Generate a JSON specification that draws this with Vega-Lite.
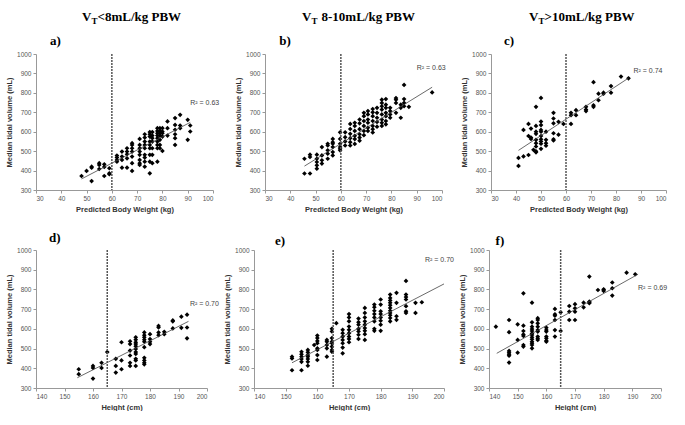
{
"$schema": "https://vega.github.io/schema/vega-lite/v6.json",
"background": "white",
"padding": {"left": 5, "top": 11, "right": 0, "bottom": 0},
"config": {
  "view": {"stroke": null},
  "axis": {"grid": false, "labelOverlap": false, "tickCount": 20, "format": "d", "labelFont": "Liberation Sans", "labelFontSize": 6.5, "labelColor": "#555", "tickSize": 3, "tickColor": "#999", "domainColor": "#999", "labelPadding": 2, "titleFont": "Liberation Sans", "titleFontSize": 7.5, "titleFontWeight": "bold", "titleColor": "#333", "titlePadding": 4},
  "axisY": {"titlePadding": 3}
},
"datasets": {
"a": [{"x":48,"y":372},{"x":50,"y":398},{"x":52,"y":420},{"x":52,"y":415},{"x":52,"y":346},{"x":55,"y":438},{"x":55,"y":429},{"x":55,"y":408},{"x":57,"y":432},{"x":57,"y":419},{"x":57,"y":372},{"x":59,"y":412},{"x":59,"y":386},{"x":59,"y":381},
{"x":62,"y":477},{"x":62,"y":467},{"x":62,"y":455},{"x":62,"y":446},
{"x":64,"y":498},{"x":64,"y":472},{"x":64,"y":455},{"x":64,"y":415},
{"x":66,"y":515},{"x":66,"y":498},{"x":66,"y":484},{"x":66,"y":463},{"x":66,"y":415},
{"x":68,"y":541},{"x":68,"y":532},{"x":68,"y":515},{"x":68,"y":498},{"x":68,"y":472},{"x":68,"y":438},{"x":68,"y":398},
{"x":71,"y":563},{"x":71,"y":532},{"x":71,"y":515},{"x":71,"y":498},{"x":71,"y":481},{"x":71,"y":455},{"x":71,"y":438},{"x":71,"y":429},
{"x":73,"y":587},{"x":73,"y":570},{"x":73,"y":549},{"x":73,"y":532},{"x":73,"y":515},{"x":73,"y":481},{"x":73,"y":467},{"x":73,"y":446},{"x":73,"y":420},
{"x":75,"y":598},{"x":75,"y":587},{"x":75,"y":575},{"x":75,"y":549},{"x":75,"y":532},{"x":75,"y":515},{"x":75,"y":481},{"x":75,"y":446},{"x":75,"y":386},
{"x":76,"y":598},{"x":76,"y":580},{"x":76,"y":567},{"x":76,"y":549},{"x":76,"y":515},{"x":76,"y":481},{"x":76,"y":438},
{"x":78,"y":618},{"x":78,"y":604},{"x":78,"y":592},{"x":78,"y":580},{"x":78,"y":567},{"x":78,"y":549},{"x":78,"y":532},{"x":78,"y":515},{"x":78,"y":446},
{"x":79,"y":618},{"x":79,"y":604},{"x":79,"y":592},{"x":79,"y":580},{"x":79,"y":558},{"x":79,"y":532},{"x":79,"y":515},
{"x":80,"y":618},{"x":80,"y":601},{"x":80,"y":592},{"x":80,"y":575},{"x":80,"y":501},
{"x":82,"y":653},{"x":82,"y":618},{"x":82,"y":580},
{"x":85,"y":670},{"x":85,"y":635},{"x":85,"y":610},{"x":85,"y":587},{"x":85,"y":567},{"x":85,"y":532},
{"x":87,"y":687},{"x":87,"y":632},{"x":87,"y":618},
{"x":90,"y":661},{"x":90,"y":558},{"x":91,"y":632},{"x":91,"y":601}],
"b": [{"x":45.6,"y":461},{"x":45.6,"y":385},{"x":47.8,"y":482},{"x":47.8,"y":470},{"x":47.8,"y":385},
{"x":50.5,"y":482},{"x":50.5,"y":461},{"x":50.5,"y":444},{"x":50.5,"y":427},{"x":50.5,"y":410},
{"x":52.5,"y":521},{"x":52.5,"y":478},{"x":52.5,"y":453},{"x":52.5,"y":436},
{"x":54.8,"y":538},{"x":54.8,"y":529},{"x":54.8,"y":504},{"x":54.8,"y":487},{"x":54.8,"y":461},
{"x":56.8,"y":563},{"x":56.8,"y":546},{"x":56.8,"y":538},{"x":56.8,"y":521},{"x":56.8,"y":495},{"x":56.8,"y":478},
{"x":59.7,"y":597},{"x":59.7,"y":563},{"x":59.7,"y":538},{"x":59.7,"y":521},{"x":59.7,"y":512},{"x":59.7,"y":504},
{"x":61.7,"y":597},{"x":61.7,"y":572},{"x":61.7,"y":550},{"x":61.7,"y":529},
{"x":63.7,"y":640},{"x":63.7,"y":614},{"x":63.7,"y":589},{"x":63.7,"y":567},{"x":63.7,"y":546},{"x":63.7,"y":529},
{"x":65.5,"y":646},{"x":65.5,"y":630},{"x":65.5,"y":604},{"x":65.5,"y":579},{"x":65.5,"y":562},{"x":65.5,"y":537},
{"x":67.4,"y":663},{"x":67.4,"y":643},{"x":67.4,"y":613},{"x":67.4,"y":587},{"x":67.4,"y":570},{"x":67.4,"y":554},
{"x":69.1,"y":697},{"x":69.1,"y":680},{"x":69.1,"y":655},{"x":69.1,"y":630},{"x":69.1,"y":604},{"x":69.1,"y":582},
{"x":70.7,"y":706},{"x":70.7,"y":689},{"x":70.7,"y":663},{"x":70.7,"y":646},{"x":70.7,"y":621},{"x":70.7,"y":604},
{"x":72.6,"y":717},{"x":72.6,"y":700},{"x":72.6,"y":680},{"x":72.6,"y":655},{"x":72.6,"y":630},{"x":72.6,"y":613},{"x":72.6,"y":596},
{"x":74.3,"y":723},{"x":74.3,"y":697},{"x":74.3,"y":672},{"x":74.3,"y":650},{"x":74.3,"y":626},
{"x":76.2,"y":765},{"x":76.2,"y":748},{"x":76.2,"y":731},{"x":76.2,"y":714},{"x":76.2,"y":689},{"x":76.2,"y":663},{"x":76.2,"y":646},{"x":76.2,"y":630},
{"x":77.8,"y":768},{"x":77.8,"y":739},{"x":77.8,"y":723},{"x":77.8,"y":697},{"x":77.8,"y":680},{"x":77.8,"y":655},{"x":77.8,"y":638},
{"x":79.5,"y":723},{"x":79.5,"y":706},{"x":79.5,"y":689},{"x":79.5,"y":672},
{"x":81.8,"y":773},{"x":81.8,"y":765},{"x":81.8,"y":748},{"x":81.8,"y":697},
{"x":83.7,"y":739},{"x":83.7,"y":723},{"x":83.7,"y":672},
{"x":85,"y":841},{"x":85,"y":768},{"x":85,"y":748},{"x":85,"y":731},
{"x":86.9,"y":728},{"x":96.1,"y":802}],
"c": [{"x":41,"y":424},{"x":41,"y":465},{"x":43,"y":473},{"x":43,"y":609},{"x":45,"y":480},{"x":45,"y":640},{"x":45,"y":578},
{"x":46,"y":570},{"x":46,"y":563},{"x":46,"y":616},{"x":47,"y":507},
{"x":48,"y":499},{"x":48,"y":630},{"x":48,"y":600},{"x":48,"y":589},{"x":48,"y":558},{"x":48,"y":541},{"x":48,"y":524},{"x":48,"y":494},{"x":48,"y":728},
{"x":50,"y":774},{"x":50,"y":652},{"x":50,"y":634},{"x":50,"y":609},{"x":50,"y":600},{"x":50,"y":578},{"x":50,"y":561},{"x":50,"y":550},{"x":50,"y":538},{"x":50,"y":512},
{"x":52,"y":558},{"x":52,"y":541},{"x":52,"y":528},{"x":52,"y":600},
{"x":55,"y":697},{"x":55,"y":668},{"x":55,"y":643},{"x":55,"y":592},{"x":55,"y":561},{"x":55,"y":555},
{"x":57,"y":651},{"x":57,"y":585},{"x":59,"y":640},
{"x":62,"y":697},{"x":62,"y":685},{"x":62,"y":640},{"x":64,"y":711},{"x":64,"y":685},
{"x":68,"y":728},{"x":68,"y":714},{"x":68,"y":706},{"x":71,"y":855},{"x":71,"y":736},{"x":71,"y":728},
{"x":73,"y":796},{"x":73,"y":762},{"x":75,"y":801},{"x":75,"y":796},{"x":78,"y":835},{"x":78,"y":801},{"x":82,"y":884},{"x":85,"y":875}],
"d": [{"x":155,"y":395},{"x":155,"y":370},{"x":160,"y":412},{"x":160,"y":402},{"x":160,"y":348},{"x":163,"y":428},{"x":163,"y":402},{"x":165,"y":482},
{"x":168,"y":448},{"x":168,"y":412},{"x":168,"y":378},{"x":170,"y":532},{"x":170,"y":440},{"x":170,"y":395},
{"x":173,"y":537},{"x":173,"y":523},{"x":173,"y":490},{"x":173,"y":465},{"x":173,"y":428},{"x":173,"y":412},
{"x":175,"y":557},{"x":175,"y":545},{"x":175,"y":532},{"x":175,"y":523},{"x":175,"y":512},{"x":175,"y":498},{"x":175,"y":482},{"x":175,"y":473},{"x":175,"y":448},{"x":175,"y":440},{"x":175,"y":412},
{"x":178,"y":582},{"x":178,"y":568},{"x":178,"y":557},{"x":178,"y":545},{"x":178,"y":535},{"x":178,"y":507},{"x":178,"y":453},{"x":178,"y":440},{"x":178,"y":428},{"x":178,"y":420},
{"x":180,"y":573},{"x":180,"y":548},{"x":180,"y":535},{"x":180,"y":523},
{"x":183,"y":615},{"x":183,"y":607},{"x":183,"y":582},{"x":183,"y":568},{"x":185,"y":585},{"x":185,"y":573},
{"x":188,"y":643},{"x":188,"y":638},{"x":188,"y":602},{"x":191,"y":662},{"x":191,"y":605},{"x":193,"y":672},{"x":193,"y":607},{"x":193,"y":552}],
"e": [{"x":152,"y":459},{"x":152,"y":450},{"x":152,"y":390},
{"x":155,"y":484},{"x":155,"y":471},{"x":155,"y":459},{"x":155,"y":447},{"x":155,"y":433},{"x":155,"y":390},
{"x":157,"y":493},{"x":157,"y":481},{"x":157,"y":467},{"x":157,"y":459},{"x":157,"y":447},{"x":157,"y":433},{"x":157,"y":413},
{"x":159,"y":518},
{"x":160,"y":566},{"x":160,"y":553},{"x":160,"y":539},{"x":160,"y":527},{"x":160,"y":501},{"x":160,"y":493},{"x":160,"y":467},{"x":160,"y":442},
{"x":163,"y":544},{"x":163,"y":535},{"x":163,"y":518},{"x":163,"y":501},{"x":163,"y":459},
{"x":164.6,"y":600},{"x":164.6,"y":587},{"x":164.6,"y":553},{"x":164.6,"y":535},{"x":164.6,"y":527},{"x":164.6,"y":510},{"x":164.6,"y":493},{"x":164.6,"y":484},
{"x":166,"y":629},
{"x":168,"y":595},{"x":168,"y":578},{"x":168,"y":561},{"x":168,"y":544},{"x":168,"y":527},{"x":168,"y":505},{"x":168,"y":476},
{"x":170,"y":675},{"x":170,"y":658},{"x":170,"y":638},{"x":170,"y":612},{"x":170,"y":595},{"x":170,"y":578},{"x":170,"y":561},{"x":170,"y":549},{"x":170,"y":532},
{"x":173,"y":652},{"x":173,"y":634},{"x":173,"y":621},{"x":173,"y":600},{"x":173,"y":587},{"x":173,"y":570},{"x":173,"y":549},
{"x":175,"y":706},{"x":175,"y":681},{"x":175,"y":658},{"x":175,"y":638},{"x":175,"y":621},{"x":175,"y":604},{"x":175,"y":590},{"x":175,"y":573},{"x":175,"y":544},
{"x":178,"y":723},{"x":178,"y":710},{"x":178,"y":692},{"x":178,"y":675},{"x":178,"y":658},{"x":178,"y":638},{"x":178,"y":600},{"x":178,"y":590},
{"x":180,"y":749},{"x":180,"y":723},{"x":180,"y":689},{"x":180,"y":675},{"x":180,"y":658},{"x":180,"y":641},{"x":180,"y":621},{"x":180,"y":590},
{"x":183,"y":774},{"x":183,"y":757},{"x":183,"y":744},{"x":183,"y":732},{"x":183,"y":720},{"x":183,"y":706},{"x":183,"y":692},{"x":183,"y":681},{"x":183,"y":669},{"x":183,"y":655},{"x":183,"y":638},
{"x":185,"y":783},{"x":185,"y":732},{"x":185,"y":664},{"x":185,"y":646},
{"x":188,"y":843},{"x":188,"y":774},{"x":188,"y":761},{"x":188,"y":749},{"x":188,"y":715},{"x":188,"y":689},{"x":188,"y":681},
{"x":191,"y":732},{"x":191,"y":681},{"x":193,"y":735}],
"f": [{"x":142.4,"y":611},
{"x":147,"y":645},{"x":147,"y":583},{"x":147,"y":488},{"x":147,"y":479},{"x":147,"y":471},{"x":147,"y":464},{"x":147,"y":429},
{"x":150,"y":623},{"x":150,"y":544},{"x":150,"y":479},
{"x":152,"y":780},{"x":152,"y":616},{"x":152,"y":589},{"x":152,"y":572},{"x":152,"y":564},{"x":152,"y":518},{"x":152,"y":510},
{"x":155,"y":733},{"x":155,"y":633},{"x":155,"y":611},{"x":155,"y":599},{"x":155,"y":589},{"x":155,"y":577},{"x":155,"y":569},{"x":155,"y":557},{"x":155,"y":547},{"x":155,"y":535},{"x":155,"y":527},{"x":155,"y":518},{"x":155,"y":501},
{"x":157,"y":654},{"x":157,"y":645},{"x":157,"y":628},{"x":157,"y":611},{"x":157,"y":594},{"x":157,"y":586},{"x":157,"y":561},{"x":157,"y":552},{"x":157,"y":544},
{"x":160,"y":606},{"x":160,"y":594},{"x":160,"y":586},{"x":160,"y":561},{"x":160,"y":552},{"x":160,"y":540},{"x":160,"y":535},
{"x":163,"y":701},{"x":163,"y":674},{"x":163,"y":667},{"x":163,"y":645},{"x":163,"y":594},{"x":163,"y":561},
{"x":165,"y":684},{"x":165,"y":589},
{"x":168,"y":716},{"x":168,"y":687},{"x":168,"y":645},
{"x":170,"y":725},{"x":170,"y":704},{"x":170,"y":687},{"x":170,"y":645},
{"x":173,"y":733},{"x":173,"y":709},
{"x":175,"y":865},{"x":175,"y":738},{"x":175,"y":735},{"x":175,"y":730},
{"x":178,"y":797},{"x":180,"y":801},{"x":180,"y":797},{"x":180,"y":792},
{"x":183,"y":835},{"x":183,"y":806},{"x":183,"y":769},{"x":188,"y":885},{"x":191,"y":877}],
"la": [{"x":48,"y":357},{"x":91,"y":648}],
"lb": [{"x":45.6,"y":423},{"x":96.1,"y":829}],
"lc": [{"x":41,"y":504},{"x":85,"y":876}],
"ld": [{"x":154.5,"y":352},{"x":193.5,"y":638}],
"le": [{"x":152,"y":428},{"x":200,"y":828}],
"lf": [{"x":142.7,"y":476},{"x":192,"y":877}]
},
"spacing": 18,
"vconcat": [
{"spacing": 14, "hconcat": [
 {"width": 177, "height": 136, "layer": [
  {"data": {"name": "a"}, "mark": {"type": "point", "shape": "diamond", "filled": true, "color": "#000", "size": 22, "opacity": 1},
   "encoding": {"x": {"field": "x", "type": "quantitative", "scale": {"domain": [30, 100], "nice": false}, "axis": {"values": [30,40,50,60,70,80,90,100], "tickCount": 20, "format": "d", "labelOverlap": false, "title": "Predicted Body Weight (kg)"}},
                "y": {"field": "y", "type": "quantitative", "scale": {"domain": [300, 1000], "nice": false}, "axis": {"values": [300,400,500,600,700,800,900,1000], "tickCount": 20, "format": "d", "labelOverlap": false, "title": "Median tidal volume (mL)"}}}},
  {"data": {"name": "la"}, "mark": {"type": "line", "color": "#444", "strokeWidth": 0.8}, "encoding": {"x": {"field": "x", "type": "quantitative"}, "y": {"field": "y", "type": "quantitative"}}},
  {"data": {"values": [{}]}, "mark": {"type": "rule", "color": "#555", "strokeWidth": 1.5, "strokeDash": [2, 1]}, "encoding": {"x": {"datum": 60}}},
  {"data": {"values": [{}]}, "mark": {"type": "text", "text": "R² = 0.63", "align": "left", "baseline": "middle", "font": "Liberation Sans", "fontSize": 7, "color": "#444"}, "encoding": {"x": {"datum": 91}, "y": {"datum": 750}}},
  {"data": {"values": [{}]}, "mark": {"type": "text", "text": "a)", "align": "left", "baseline": "middle", "font": "Liberation Serif", "fontWeight": "bold", "fontSize": 13, "color": "#000"}, "encoding": {"x": {"datum": 35.5}, "y": {"datum": 1065}}},
  {"data": {"values": [{}]}, "mark": {"type": "text", "text": "V", "align": "right", "baseline": "middle", "dx": -33, "font": "Liberation Serif", "fontWeight": "bold", "fontSize": 13, "color": "#000"}, "encoding": {"x": {"datum": 65}, "y": {"datum": 1190}}},
  {"data": {"values": [{}]}, "mark": {"type": "text", "text": "T", "align": "left", "baseline": "middle", "dx": -33, "dy": 4, "font": "Liberation Serif", "fontWeight": "bold", "fontSize": 9, "color": "#000"}, "encoding": {"x": {"datum": 65}, "y": {"datum": 1190}}},
  {"data": {"values": [{}]}, "mark": {"type": "text", "text": "<8mL/kg PBW", "align": "left", "baseline": "middle", "dx": -27, "font": "Liberation Serif", "fontWeight": "bold", "fontSize": 13, "color": "#000"}, "encoding": {"x": {"datum": 65}, "y": {"datum": 1190}}}
 ]},
 {"width": 177, "height": 136, "layer": [
  {"data": {"name": "b"}, "mark": {"type": "point", "shape": "diamond", "filled": true, "color": "#000", "size": 22, "opacity": 1},
   "encoding": {"x": {"field": "x", "type": "quantitative", "scale": {"domain": [30, 100], "nice": false}, "axis": {"values": [30,40,50,60,70,80,90,100], "tickCount": 20, "format": "d", "labelOverlap": false, "title": "Predicted Body Weight (kg)"}},
                "y": {"field": "y", "type": "quantitative", "scale": {"domain": [300, 1000], "nice": false}, "axis": {"values": [300,400,500,600,700,800,900,1000], "tickCount": 20, "format": "d", "labelOverlap": false, "title": "Median tidal volume (mL)"}}}},
  {"data": {"name": "lb"}, "mark": {"type": "line", "color": "#444", "strokeWidth": 0.8}, "encoding": {"x": {"field": "x", "type": "quantitative"}, "y": {"field": "y", "type": "quantitative"}}},
  {"data": {"values": [{}]}, "mark": {"type": "rule", "color": "#555", "strokeWidth": 1.5, "strokeDash": [2, 1]}, "encoding": {"x": {"datum": 60}}},
  {"data": {"values": [{}]}, "mark": {"type": "text", "text": "R² = 0.63", "align": "left", "baseline": "middle", "font": "Liberation Sans", "fontSize": 7, "color": "#444"}, "encoding": {"x": {"datum": 90}, "y": {"datum": 930}}},
  {"data": {"values": [{}]}, "mark": {"type": "text", "text": "b)", "align": "left", "baseline": "middle", "font": "Liberation Serif", "fontWeight": "bold", "fontSize": 13, "color": "#000"}, "encoding": {"x": {"datum": 35.6}, "y": {"datum": 1065}}},
  {"data": {"values": [{}]}, "mark": {"type": "text", "text": "V", "align": "right", "baseline": "middle", "dx": -42, "font": "Liberation Serif", "fontWeight": "bold", "fontSize": 13, "color": "#000"}, "encoding": {"x": {"datum": 65}, "y": {"datum": 1190}}},
  {"data": {"values": [{}]}, "mark": {"type": "text", "text": "T", "align": "left", "baseline": "middle", "dx": -42, "dy": 4, "font": "Liberation Serif", "fontWeight": "bold", "fontSize": 9, "color": "#000"}, "encoding": {"x": {"datum": 65}, "y": {"datum": 1190}}},
  {"data": {"values": [{}]}, "mark": {"type": "text", "text": "8-10mL/kg PBW", "align": "left", "baseline": "middle", "dx": -32, "font": "Liberation Serif", "fontWeight": "bold", "fontSize": 13, "color": "#000"}, "encoding": {"x": {"datum": 65}, "y": {"datum": 1190}}}
 ]},
 {"width": 175, "height": 136, "layer": [
  {"data": {"name": "c"}, "mark": {"type": "point", "shape": "diamond", "filled": true, "color": "#000", "size": 22, "opacity": 1},
   "encoding": {"x": {"field": "x", "type": "quantitative", "scale": {"domain": [30, 100], "nice": false}, "axis": {"values": [30,40,50,60,70,80,90,100], "tickCount": 20, "format": "d", "labelOverlap": false, "title": "Predicted Body Weight (kg)"}},
                "y": {"field": "y", "type": "quantitative", "scale": {"domain": [300, 1000], "nice": false}, "axis": {"values": [300,400,500,600,700,800,900,1000], "tickCount": 20, "format": "d", "labelOverlap": false, "title": "Median tidal volume (mL)"}}}},
  {"data": {"name": "lc"}, "mark": {"type": "line", "color": "#444", "strokeWidth": 0.8}, "encoding": {"x": {"field": "x", "type": "quantitative"}, "y": {"field": "y", "type": "quantitative"}}},
  {"data": {"values": [{}]}, "mark": {"type": "rule", "color": "#555", "strokeWidth": 1.5, "strokeDash": [2, 1]}, "encoding": {"x": {"datum": 60}}},
  {"data": {"values": [{}]}, "mark": {"type": "text", "text": "R² = 0.74", "align": "left", "baseline": "middle", "font": "Liberation Sans", "fontSize": 7, "color": "#444"}, "encoding": {"x": {"datum": 87}, "y": {"datum": 915}}},
  {"data": {"values": [{}]}, "mark": {"type": "text", "text": "c)", "align": "left", "baseline": "middle", "font": "Liberation Serif", "fontWeight": "bold", "fontSize": 13, "color": "#000"}, "encoding": {"x": {"datum": 35.2}, "y": {"datum": 1065}}},
  {"data": {"values": [{}]}, "mark": {"type": "text", "text": "V", "align": "right", "baseline": "middle", "dx": -40, "font": "Liberation Serif", "fontWeight": "bold", "fontSize": 13, "color": "#000"}, "encoding": {"x": {"datum": 65}, "y": {"datum": 1190}}},
  {"data": {"values": [{}]}, "mark": {"type": "text", "text": "T", "align": "left", "baseline": "middle", "dx": -40, "dy": 4, "font": "Liberation Serif", "fontWeight": "bold", "fontSize": 9, "color": "#000"}, "encoding": {"x": {"datum": 65}, "y": {"datum": 1190}}},
  {"data": {"values": [{}]}, "mark": {"type": "text", "text": ">10mL/kg PBW", "align": "left", "baseline": "middle", "dx": -34, "font": "Liberation Serif", "fontWeight": "bold", "fontSize": 13, "color": "#000"}, "encoding": {"x": {"datum": 65}, "y": {"datum": 1190}}}
 ]}
]},
{"spacing": 4, "hconcat": [
 {"width": 171, "height": 138, "layer": [
  {"data": {"name": "d"}, "mark": {"type": "point", "shape": "diamond", "filled": true, "color": "#000", "size": 22, "opacity": 1},
   "encoding": {"x": {"field": "x", "type": "quantitative", "scale": {"domain": [140, 200], "nice": false}, "axis": {"values": [140,150,160,170,180,190,200], "tickCount": 20, "format": "d", "labelOverlap": false, "title": "Height (cm)"}},
                "y": {"field": "y", "type": "quantitative", "scale": {"domain": [300, 1000], "nice": false}, "axis": {"values": [300,400,500,600,700,800,900,1000], "tickCount": 20, "format": "d", "labelOverlap": false, "title": "Median tidal volume (mL)"}}}},
  {"data": {"name": "ld"}, "mark": {"type": "line", "color": "#444", "strokeWidth": 0.8}, "encoding": {"x": {"field": "x", "type": "quantitative"}, "y": {"field": "y", "type": "quantitative"}}},
  {"data": {"values": [{}]}, "mark": {"type": "rule", "color": "#555", "strokeWidth": 1.5, "strokeDash": [2, 1]}, "encoding": {"x": {"datum": 165}}},
  {"data": {"values": [{}]}, "mark": {"type": "text", "text": "R² = 0.70", "align": "left", "baseline": "middle", "font": "Liberation Sans", "fontSize": 7, "color": "#444"}, "encoding": {"x": {"datum": 194}, "y": {"datum": 728}}},
  {"data": {"values": [{}]}, "mark": {"type": "text", "text": "d)", "align": "left", "baseline": "middle", "font": "Liberation Serif", "fontWeight": "bold", "fontSize": 13, "color": "#000"}, "encoding": {"x": {"datum": 144.6}, "y": {"datum": 1061}}}
 ]},
 {"width": 190, "height": 138, "layer": [
  {"data": {"name": "e"}, "mark": {"type": "point", "shape": "diamond", "filled": true, "color": "#000", "size": 22, "opacity": 1},
   "encoding": {"x": {"field": "x", "type": "quantitative", "scale": {"domain": [140, 200], "nice": false}, "axis": {"values": [140,150,160,170,180,190,200], "tickCount": 20, "format": "d", "labelOverlap": false, "title": "Height (cm)"}},
                "y": {"field": "y", "type": "quantitative", "scale": {"domain": [300, 1000], "nice": false}, "axis": {"values": [300,400,500,600,700,800,900,1000], "tickCount": 20, "format": "d", "labelOverlap": false, "title": "Median tidal volume (mL)"}}}},
  {"data": {"name": "le"}, "mark": {"type": "line", "color": "#444", "strokeWidth": 0.8}, "encoding": {"x": {"field": "x", "type": "quantitative"}, "y": {"field": "y", "type": "quantitative"}}},
  {"data": {"values": [{}]}, "mark": {"type": "rule", "color": "#555", "strokeWidth": 1.5, "strokeDash": [2, 1]}, "encoding": {"x": {"datum": 165}}},
  {"data": {"values": [{}]}, "mark": {"type": "text", "text": "R² = 0.70", "align": "left", "baseline": "middle", "font": "Liberation Sans", "fontSize": 7, "color": "#444"}, "encoding": {"x": {"datum": 194}, "y": {"datum": 948}}},
  {"data": {"values": [{}]}, "mark": {"type": "text", "text": "e)", "align": "left", "baseline": "middle", "font": "Liberation Serif", "fontWeight": "bold", "fontSize": 13, "color": "#000"}, "encoding": {"x": {"datum": 146.6}, "y": {"datum": 1046}}}
 ]},
 {"width": 172, "height": 138, "layer": [
  {"data": {"name": "f"}, "mark": {"type": "point", "shape": "diamond", "filled": true, "color": "#000", "size": 22, "opacity": 1},
   "encoding": {"x": {"field": "x", "type": "quantitative", "scale": {"domain": [140, 200], "nice": false}, "axis": {"values": [140,150,160,170,180,190,200], "tickCount": 20, "format": "d", "labelOverlap": false, "title": "Height (cm)"}},
                "y": {"field": "y", "type": "quantitative", "scale": {"domain": [300, 1000], "nice": false}, "axis": {"values": [300,400,500,600,700,800,900,1000], "tickCount": 20, "format": "d", "labelOverlap": false, "title": "Median tidal volume (mL)"}}}},
  {"data": {"name": "lf"}, "mark": {"type": "line", "color": "#444", "strokeWidth": 0.8}, "encoding": {"x": {"field": "x", "type": "quantitative"}, "y": {"field": "y", "type": "quantitative"}}},
  {"data": {"values": [{}]}, "mark": {"type": "rule", "color": "#555", "strokeWidth": 1.5, "strokeDash": [2, 1]}, "encoding": {"x": {"datum": 165}}},
  {"data": {"values": [{}]}, "mark": {"type": "text", "text": "R² = 0.69", "align": "left", "baseline": "middle", "font": "Liberation Sans", "fontSize": 7, "color": "#444"}, "encoding": {"x": {"datum": 192}, "y": {"datum": 806}}},
  {"data": {"values": [{}]}, "mark": {"type": "text", "text": "f)", "align": "left", "baseline": "middle", "font": "Liberation Serif", "fontWeight": "bold", "fontSize": 13, "color": "#000"}, "encoding": {"x": {"datum": 142.3}, "y": {"datum": 1046}}}
 ]}
]}
]
}
